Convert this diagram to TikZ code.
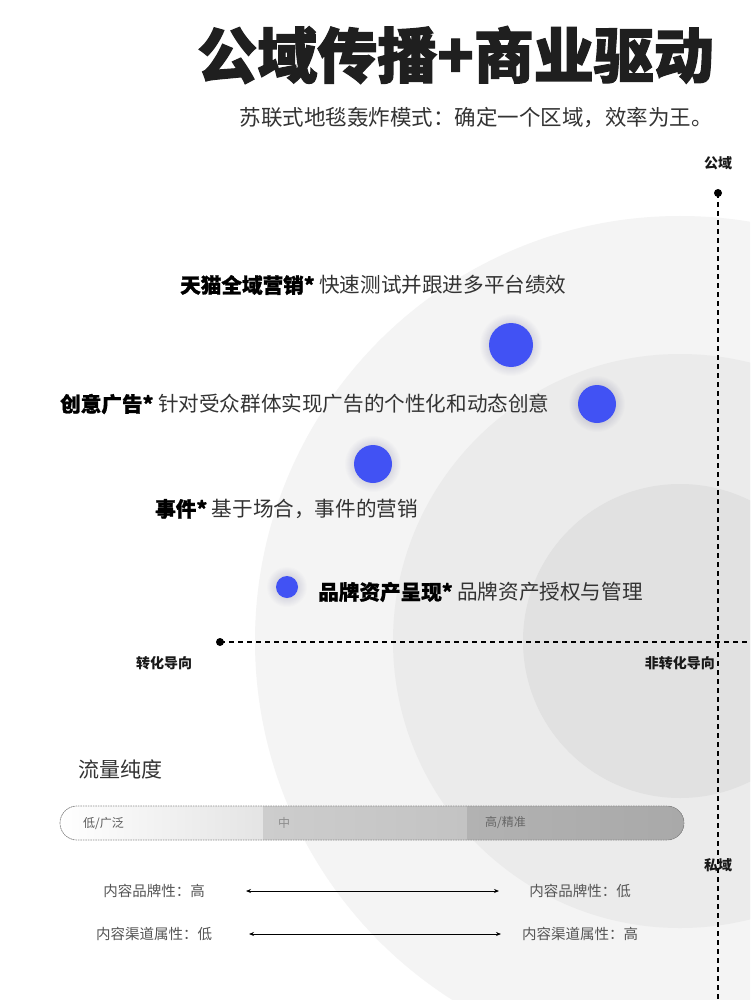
\documentclass[tikz,border=0pt]{standalone}
\usepackage{fontspec}
\setmainfont{Noto Sans CJK SC}[BoldFeatures={FakeBold=1.2}]
\newfontfamily\titlefont{Noto Sans CJK SC}[BoldFeatures={FakeBold=2}]
\newfontfamily\labelfont{Noto Sans CJK SC}
\usetikzlibrary{arrows.meta}
\definecolor{ringA}{HTML}{F4F4F4}
\definecolor{ringB}{HTML}{EBEBEB}
\definecolor{ringC}{HTML}{E1E1E1}
\definecolor{dotblue}{HTML}{4152F4}
\definecolor{txt}{HTML}{333333}
\definecolor{subtxt}{HTML}{555555}
\definecolor{barA}{HTML}{E4E4E4}
\definecolor{barBa}{HTML}{CDCDCD}
\definecolor{barBb}{HTML}{C3C3C3}
\definecolor{barCa}{HTML}{B2B2B2}
\definecolor{barCb}{HTML}{A9A9A9}
\tikzset{
  axisline/.style={line width=2pt, dash pattern=on 5pt off 4pt, black},
  axisdot/.style={circle, fill=black, inner sep=0pt, minimum size=8pt},
  axislabel/.style={font=\labelfont\bfseries\fontsize{14}{16}\selectfont, text=black!90, inner sep=0pt},
  bluedot/.style={circle, fill=dotblue, inner sep=0pt},
  itemtext/.style={anchor=west, inner sep=0pt, text=txt, font=\fontsize{20.6}{24}\selectfont},
  scaletext/.style={inner sep=0pt, text=subtxt, font=\fontsize{14.5}{17}\selectfont},
  bartext/.style={anchor=west, inner sep=0pt, font=\fontsize{12}{14}\selectfont},
  twoway/.style={{Stealth[length=5pt,width=4pt]}-{Stealth[length=5pt,width=4pt]}, line width=0.8pt, black}
}
\begin{document}
\begin{tikzpicture}[x=1pt,y=-1pt]
\useasboundingbox (0,0) rectangle (750,1000);
\fill[white] (0,0) rectangle (750,1000);
% background rings
\begin{scope}
\clip (0,0) rectangle (750,1000);
\fill[ringA] (680,641) circle[radius=425pt];
\fill[ringB] (680,641) circle[radius=287pt];
\fill[ringC] (680,641) circle[radius=157pt];
\end{scope}

% title
\node[anchor=east, inner sep=0pt, text=black!88, font=\titlefont\bfseries\fontsize{60}{66}\selectfont] (title) at (714,55) {公域传播+商业驱动};
\node[anchor=east, inner sep=0pt, text=txt, font=\fontsize{21.5}{25}\selectfont] (subtitle) at (713,118) {苏联式地毯轰炸模式：确定一个区域，效率为王。};

% axes
\node[axisdot] (vtop) at (718,193) {};
\coordinate (vbot) at (718,1000);
\node[axisdot] (hleft) at (220,642) {};
\coordinate (hright) at (750,642);
\draw[axisline] (vtop.center) -- (vbot);
\draw[axisline] (hleft.center) -- (hright);
\node[axislabel] (pub) at (718,163) {公域};
\node[axislabel] (priv) at (718,865) {私域};
\node[axislabel] (conv) at (164,663) {转化导向};
\node[axislabel, anchor=east] (nonconv) at (715,663) {非转化导向};

% glow of dots
\foreach \x/\y/\r in {511/345/22, 597/404/19, 373/464/19, 287/587/11}{
  \foreach \k in {1,...,9}{
    \fill[black!60!blue, opacity=0.012] (\x,\y) circle[radius=\r pt+\k pt];
  }
}
\node[bluedot, minimum size=44pt] (d1) at (511,345) {};
\node[bluedot, minimum size=38pt] (d2) at (597,404) {};
\node[bluedot, minimum size=38pt] (d3) at (373,464) {};
\node[bluedot, minimum size=22pt] (d4) at (287,587) {};

% item texts
\node[itemtext] (t1) at (180,285) {\textbf{\color{black}天猫全域营销*} 快速测试并跟进多平台绩效};
\node[itemtext] (t2) at (60,404) {\textbf{\color{black}创意广告*} 针对受众群体实现广告的个性化和动态创意};
\node[itemtext] (t3) at (155,509) {\textbf{\color{black}事件*} 基于场合，事件的营销};
\node[itemtext] (t4) at (318,592) {\textbf{\color{black}品牌资产呈现*} 品牌资产授权与管理};

% traffic purity
\node[anchor=west, inner sep=0pt, text=txt, font=\fontsize{21}{25}\selectfont] (purity) at (78,769) {流量纯度};
\begin{scope}
\clip[rounded corners=17pt] (60,806) rectangle (684,840);
\fill[left color=white, right color=barA] (60,806) rectangle (263,840);
\fill[left color=barBa, right color=barBb] (263,806) rectangle (467,840);
\fill[left color=barCa, right color=barCb] (467,806) rectangle (684,840);
\end{scope}
\draw[rounded corners=17pt, line width=0.7pt, dash pattern=on 1.5pt off 1pt, black!45] (60,806) rectangle (684,840);
\node[bartext, text=black!65] (low) at (83,824) {低/广泛};
\node[bartext, text=black!45] (mid) at (278,823) {中};
\node[bartext, text=black!60] (high) at (485,823) {高/精准};

% scales
\node[scaletext] (bl) at (154,891) {内容品牌性：高};
\node[scaletext] (br) at (580,891) {内容品牌性：低};
\node[scaletext] (cl) at (154,934) {内容渠道属性：低};
\node[scaletext] (cr) at (580,934) {内容渠道属性：高};
\coordinate (a1l) at (246,891);
\coordinate (a1r) at (499,891);
\coordinate (a2l) at (249,934);
\coordinate (a2r) at (501,934);
\draw[twoway] (a1l) -- (a1r);
\draw[twoway] (a2l) -- (a2r);
\end{tikzpicture}
\end{document}
